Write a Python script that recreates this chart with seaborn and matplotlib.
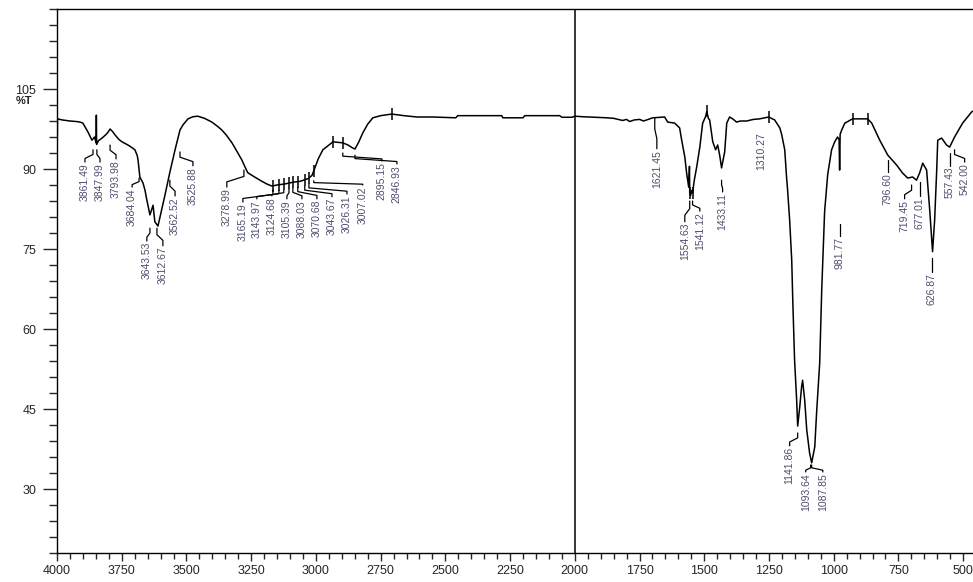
import numpy as np
import pandas as pd
import matplotlib
matplotlib.use('Agg')
import matplotlib.pyplot as plt
import seaborn as sns

# FTIR spectrum (wavenumber cm-1, %T)
wavenumber = [4000, 3998, 3980, 3950, 3925, 3911, 3900, 3880, 3865, 3855, 3849, 3848, 3847,
              3840, 3826, 3810, 3803, 3795, 3785, 3776, 3760, 3749, 3726, 3710, 3699, 3690,
              3687, 3680, 3668, 3660, 3653, 3641, 3629, 3622, 3610, 3598, 3583, 3564, 3544,
              3525, 3513, 3494, 3475, 3456, 3430, 3402, 3380, 3363, 3345, 3324, 3305, 3286,
              3274, 3263, 3240, 3216, 3190, 3170, 3150, 3120, 3090, 3060, 3030, 3015, 3004,
              2990, 2973, 2950, 2934, 2915, 2896, 2876, 2860, 2849, 2835, 2819, 2800, 2780,
              2750, 2707, 2660, 2610, 2550, 2460, 2452, 2282, 2278, 2200, 2193, 2058, 2050,
              2010, 2000, 1969, 1876, 1850, 1815, 1800, 1788, 1770, 1749, 1735, 1722, 1699,
              1653, 1641, 1614, 1595, 1587, 1575, 1568, 1560, 1557, 1556, 1553, 1548, 1545,
              1538, 1529, 1517, 1506, 1495, 1490, 1484, 1479, 1467, 1456, 1448, 1440, 1433,
              1421, 1413, 1402, 1390, 1375, 1360, 1336, 1310, 1286, 1251, 1228, 1208, 1201,
              1189, 1182, 1178, 1170, 1162, 1158, 1151, 1143, 1139, 1131, 1124, 1120, 1112,
              1104, 1093, 1085, 1073, 1066, 1054, 1046, 1035, 1023, 1008, 996, 985, 979,
              977, 975, 969, 957, 927, 900, 869, 853, 822, 791, 757, 734, 714, 695, 680,
              668, 656, 641, 629, 618, 610, 602, 598, 583, 564, 552, 533, 502, 467, 440]
transmittance = [90.0, 99.4, 99.2, 99.0, 98.9, 98.8, 98.6, 96.9, 95.4, 96.0, 94.9, 100.1, 94.6,
                 95.3, 95.8, 96.5, 96.9, 97.5, 97.0, 96.4, 95.5, 95.1, 94.5, 94.0, 93.6, 92.5,
                 91.7, 88.5, 87.4, 86.0, 84.2, 81.4, 83.2, 80.1, 79.3, 81.9, 85.1, 89.4, 93.6,
                 97.3, 98.3, 99.4, 99.8, 99.9, 99.5, 98.8, 98.0, 97.3, 96.3, 94.9, 93.3, 91.7,
                 90.4, 89.3, 88.6, 87.9, 87.2, 86.8, 87.0, 87.2, 87.5, 87.7, 88.2, 88.8, 90.2,
                 92.0, 93.6, 94.5, 95.1, 95.0, 94.9, 94.5, 94.0, 93.75, 95.0, 96.75, 98.4, 99.6,
                 100.0, 100.3, 100.0, 99.75, 99.75, 99.6, 100.0, 100.0, 99.6, 99.6, 100.0, 100.0, 99.7,
                 99.7, 99.9, 99.8, 99.6, 99.5, 99.1, 99.3, 98.9, 99.2, 99.3, 99.0, 99.2, 99.6,
                 99.75, 98.8, 98.6, 97.7, 95.4, 92.25, 89.25, 86.6, 90.5, 85.5, 85.0, 86.0, 85.5,
                 88.0, 90.4, 94.1, 98.6, 99.8, 100.8, 99.5, 99.2, 95.1, 93.6, 94.5, 92.5, 90.2,
                 93.2, 98.6, 99.75, 99.4, 98.8, 99.0, 99.0, 99.3, 99.4, 99.75, 99.2, 97.7, 96.5,
                 93.6, 88.5, 86.1, 80.4, 72.9, 65.4, 54.2, 46.7, 41.8, 45.4, 49.1, 50.4, 46.7,
                 41.1, 36.75, 34.9, 37.9, 44.25, 53.6, 67.5, 82.0, 89.0, 93.6, 95.1, 96.0, 95.5,
                 89.8, 96.5, 97.3, 98.6, 99.4, 99.4, 99.4, 98.6, 95.4, 92.6, 90.75, 89.25, 88.3, 88.5, 87.9,
                 89.25, 91.1, 89.8, 82.3, 74.5, 80.4, 89.8, 95.4, 95.8, 94.5, 94.1, 96.0, 98.6, 100.7, 101.5]

# picked peaks as printed on the chart
peak_labels = ['3861.49', '3847.99', '3793.98', '3684.04', '3643.53', '3612.67', '3562.52',
               '3525.88', '3278.99', '3165.19', '3143.97', '3124.68', '3105.39', '3088.03',
               '3070.68', '3043.67', '3026.31', '3007.02', '2895.15', '2846.93', '1621.45',
               '1554.63', '1541.12', '1433.11', '1310.27', '1141.86', '1093.64', '1087.85',
               '981.77', '796.60', '719.45', '677.01', '626.87', '557.43', '542.00']
# small peak-pick ticks crossing the trace
tick_marks = [3165, 3143, 3124, 3105, 3089, 3070, 3043, 3027, 3008, 2934, 2896, 2707,
              1556, 1545, 1490, 1251, 927, 869]

# label layout: leader start (x, y) and text top (x, y)
lead_x = [3861, 3846, 3795, 3683, 3641, 3614, 3564, 3525, 3278, 3166, 3143, 3124, 3104, 3089,
          3070, 3043, 3027, 3008, 2896, 2849, 1691, 1556, 1545, 1433, None, 1139, 1089, 1085,
          977, 791, 699, 668, 622, 552, 533]
lead_y = [93.6, 93.6, 94.5, 88.3, 78.9, 78.9, 87.9, 93.2, 89.8, 86.1, 86.0, 86.0, 86.3, 86.4,
          86.6, 86.8, 87.2, 87.8, 93.0, 92.6, 99.6, 84.0, 84.0, 87.9, None, 40.5, 34.5, 34.5,
          79.7, 91.7, 87.0, 87.5, 73.3, 93.0, 93.6]
text_x = [3892, 3834, 3772, 3710, 3653, 3591, 3544, 3475, 3344, 3282, 3228, 3170, 3112, 3054,
          2996, 2938, 2880, 2819, 2745, 2687, 1683, 1575, 1517, 1429, 1278, 1170, 1108, 1042,
          977, 791, 726, 668, 622, 552, 494]
text_y = [91.1, 91.1, 91.7, 86.4, 76.3, 75.4, 84.75, 90.4, 86.4, 83.6, 84.2, 84.75, 84.2, 84.2,
          84.2, 84.6, 85.1, 86.8, 91.3, 90.75, 93.6, 79.9, 81.9, 85.5, 96.9, 37.9, 33.0, 33.0,
          77.25, 89.25, 84.2, 84.75, 70.5, 90.4, 91.1]

sns.set_style('ticks')
plt.rcParams['font.family'] = ['Liberation Sans', 'DejaVu Sans']

data = pd.DataFrame({'wn': wavenumber, 'T': transmittance})

fig = plt.figure(figsize=(9.73, 5.82), dpi=100)
ax = fig.add_axes([57 / 973, 29 / 582, 932 / 973, 544 / 582])

sns.lineplot(data=data, x='wn', y='T', ax=ax, color='black', linewidth=1.1,
             sort=False, estimator=None)

# peak tick marks
wn_sorted = np.array(wavenumber)[::-1]
t_sorted = np.array(transmittance)[::-1]
ax.plot(tick_marks, np.interp(tick_marks, wn_sorted, t_sorted), ls='none',
        marker='|', ms=8, mew=1.1, color='black')

# peak labels with leader lines
for lab, ax_, ay, tx, ty in zip(peak_labels, lead_x, lead_y, text_x, text_y):
    if ax_ is not None:
        gap = ay - ty
        ax.plot([ax_, ax_, tx, tx], [ay, ay - 0.35 * gap, ty + 0.35 * gap, ty + 0.2],
                color='black', lw=0.9)
    ax.text(tx, ty, lab, rotation=90, ha='center', va='top', fontsize=7.5,
            color='#4e4e70')

ax.axvline(2000, color='black', lw=1.1)

ax.set_xlim(4000, 400)
ax.set_ylim(18, 120)
ax.set_xticks(np.arange(4000, 499, -250))
ax.set_xticks(np.arange(4000, 449, -50), minor=True)
ax.set_yticks(np.arange(30, 106, 15))
ax.set_yticks(np.arange(18, 121, 3), minor=True)
ax.tick_params(axis='y', which='major', length=10, width=1, pad=5, labelsize=9)
ax.tick_params(axis='y', which='minor', length=6, width=1)
ax.tick_params(axis='x', which='major', length=6, width=1, pad=3, labelsize=9)
ax.tick_params(axis='x', which='minor', length=4, width=1)
ax.set_xlabel('')
ax.set_ylabel('')
for s in ax.spines.values():
    s.set_linewidth(1.0)
    s.set_color('black')

fig.text(24 / 973, 1 - 101 / 582, '%T', ha='center', va='center', fontsize=8,
         fontweight='bold', color='#222222')

fig.savefig('out.png', dpi=100)
